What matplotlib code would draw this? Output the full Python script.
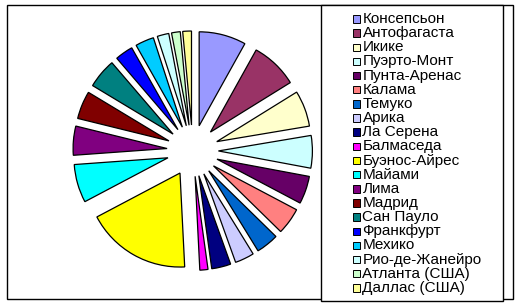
import matplotlib
matplotlib.use("Agg")
import matplotlib.pyplot as plt
from matplotlib.patches import Rectangle

# Data ---------------------------------------------------------------------
cities = [
    "Консепсьон", "Антофагаста", "Икике", "Пуэрто-Монт", "Пунта-Аренас",
    "Калама", "Темуко", "Арика", "Ла Серена", "Балмаседа",
    "Буэнос-Айрес", "Майами", "Лима", "Мадрид", "Сан Пауло",
    "Франкфурт", "Мехико", "Рио-де-Жанейро", "Атланта (США)", "Даллас (США)",
]
shares = [8.1, 8.1, 6.2, 5.6, 4.8, 4.6, 3.9, 3.3, 3.3, 1.4,
          18.1, 6.6, 5.0, 4.8, 5.1, 3.1, 3.2, 2.0, 1.5, 1.5]
colors = [
    "#9999FF", "#993366", "#FFFFCC", "#CCFFFF", "#660066",
    "#FF8080", "#0066CC", "#CCCCFF", "#000080", "#FF00FF",
    "#FFFF00", "#00FFFF", "#800080", "#800000", "#008080",
    "#0000FF", "#00CCFF", "#CCFFFF", "#CCFFCC", "#FFFF99",
]

W, H = 521, 306
plt.rcParams["font.family"] = ["Liberation Sans", "DejaVu Sans"]

fig = plt.figure(figsize=(W / 100, H / 100), dpi=100)
ax = fig.add_axes([0, 0, 1, 1])

# pie in pixel units (y measured from the bottom)
radius = 94
ax.pie(
    shares,
    colors=colors,
    startangle=90,
    counterclock=False,
    radius=radius,
    center=(192.7, H - 150.7),
    explode=[25.7] * len(shares),
    wedgeprops=dict(edgecolor="black", linewidth=0.9),
)

ax.set_xlim(0, W)
ax.set_ylim(0, H)
ax.set_aspect("auto")
ax.axis("off")

# chart frame and legend box
ax.add_patch(Rectangle((6.5, H - 299.3), 513.3 - 6.5, 299.3 - 5,
                       fill=False, edgecolor="black", linewidth=1.0))
ax.add_patch(Rectangle((320.7, H - 301.3), 502.7 - 320.7, 301.3 - 5,
                       facecolor="white", edgecolor="black", linewidth=1.0))

# legend entries
row0, step = 19.0, 14.15
for i, (name, col) in enumerate(zip(cities, colors)):
    yc = H - (row0 + i * step)
    ax.add_patch(Rectangle((352.5, yc - 3.7), 7.4, 7.4,
                           facecolor=col, edgecolor="black", linewidth=0.7))
    ax.text(362.5, yc, name, fontsize=11, va="center", ha="left", color="black")

fig.savefig("out.png", dpi=100)
